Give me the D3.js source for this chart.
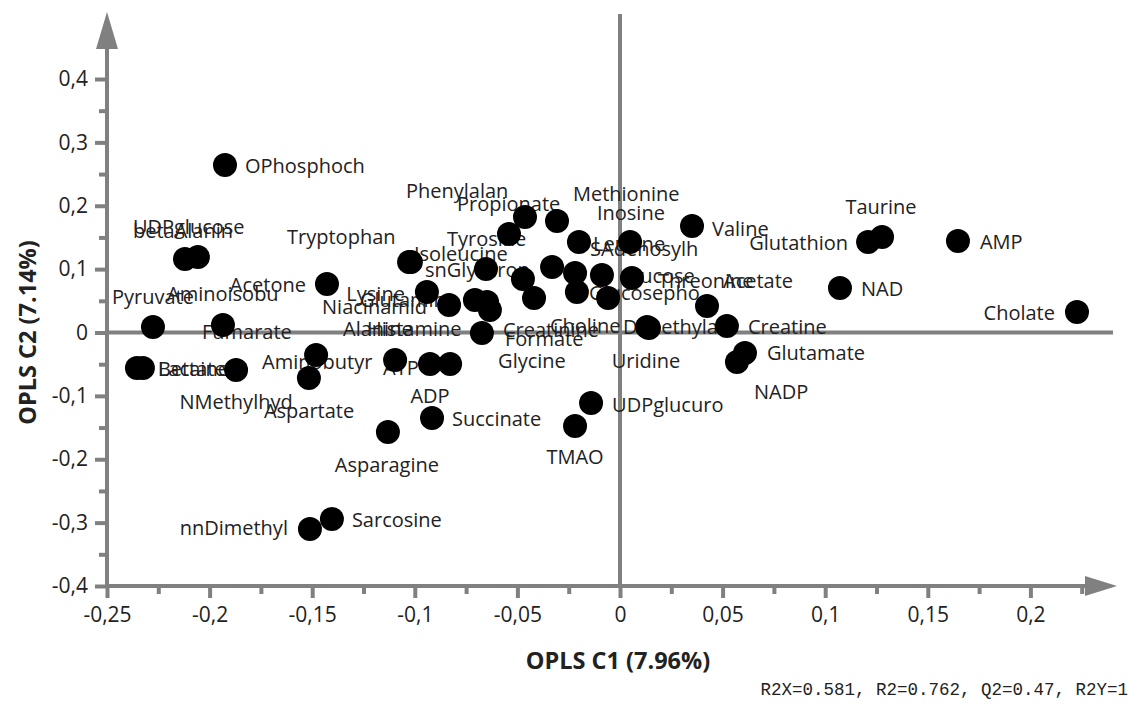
<!DOCTYPE html>
<html>
<head>
<meta charset="utf-8">
<script src="https://cdn.jsdelivr.net/npm/d3@7"></script>
<style>
  html, body { margin: 0; padding: 0; background: #fff; }
  svg { display: block; }
  text { font-family: "Open Sans", "Noto Sans", sans-serif; }
</style>
</head>
<body>
<svg id="chart" width="1132" height="706"></svg>
<script>
// ---------------- data ----------------
const names = [
  "OPhosphoch","UDPglucose","betaAlanin","Acetone","Tryptophan","Isoleucine","Phenylalan","Propionate","Tyrosine","Methionine",
  "Leucine","Valine","Glutathion","Taurine","AMP","snGlycerop","SAdenosylh","Formate","Threonine","Inosine",
  "Fucose","Aminoisobu","Choline","Glucosepho","Acetate","Dimethyla","Uridine","Creatine","Glutamate","NADP",
  "NAD","Cholate","Lysine","Niacinamid","Glutamine","Alanine","Histamine","Creatinine","Glycine","Pyruvate",
  "Fumarate","Betaine","Lactate","NMethylhyd","Aminobutyr","Aspartate","ATP","ADP","Succinate","Asparagine",
  "UDPglucuro","TMAO","nnDimethyl","Sarcosine"
];
const c1 = [
  -0.1925,-0.2057,-0.2120,-0.1428,-0.1028,-0.1019,-0.0463,-0.0307,-0.0541,-0.0200,
   0.0049, 0.0351, 0.1209, 0.1277, 0.1647,-0.0653,-0.0331,-0.0473,-0.0219,-0.0088,
   0.0058,-0.0419,-0.0210,-0.0058, 0.0424, 0.0132, 0.0141, 0.0521, 0.0609, 0.0570,
   0.1072, 0.2227,-0.0941,-0.0833,-0.0707,-0.0648,-0.0634,-0.0673,-0.0828,-0.2276,
  -0.1935,-0.2354,-0.2325,-0.1871,-0.1481,-0.1516,-0.1096,-0.0926,-0.0916,-0.1131,
  -0.0141,-0.0219,-0.1511,-0.1404
];
const c2 = [
   0.2642, 0.1191, 0.1159, 0.0765, 0.1112, 0.1112, 0.1822, 0.1759, 0.1554, 0.1427,
   0.1427, 0.1680, 0.1427, 0.1506, 0.1443, 0.1002, 0.1033, 0.0844, 0.0938, 0.0907,
   0.0860, 0.0544, 0.0639, 0.0544, 0.0418, 0.0087, 0.0071, 0.0103,-0.0323,-0.0465,
   0.0702, 0.0323, 0.0639, 0.0434, 0.0513, 0.0481, 0.0355,-0.0008,-0.0497, 0.0087,
   0.0118,-0.0560,-0.0560,-0.0591,-0.0355,-0.0718,-0.0434,-0.0497,-0.1349,-0.1569,
  -0.1112,-0.1475,-0.3099,-0.2942
];
const xTicks = [-0.25,-0.2,-0.15,-0.1,-0.05,0,0.05,0.1,0.15,0.2];
const xMinorTicks = [-0.225,-0.175,-0.125,-0.075,-0.025,0.025,0.075,0.125,0.175,0.225];
const yTicks = [-0.4,-0.3,-0.2,-0.1,0,0.1,0.2,0.3,0.4];
const yMinorTicks = [-0.35,-0.25,-0.15,-0.05,0.05,0.15,0.25,0.35];
const xTitle = "OPLS C1 (7.96%)";
const yTitle = "OPLS C2 (7.14%)";
const statsText = "R2X=0.581, R2=0.762, Q2=0.47, R2Y=1";

// label placement (pixel offsets from the point, anchor)
const labelLayout = [
  [20,0,"start"],[-65,-31,"start"],[-52,-29,"start"],[-21,0,"end"],[-122,-26,"start"],[3,-9,"start"],[-119,-27,"start"],[-100,-18,"start"],[-62,4,"start"],[-6,-49,"start"],
  [-37,1,"start"],[20,2,"start"],[-20,0,"end"],[-1,-31,"middle"],[22,0,"start"],[-61,1,"start"],[38,-19,"start"],[-18,59,"start"],[83,7,"start"],[-5,-63,"start"],
  [-2,-2,"start"],[-367,-5,"start"],[-27,33,"start"],[-19,-6,"start"],[16,-26,"start"],[-24,0,"start"],[-3,32,"middle"],[21,1,"start"],[22,0,"start"],[17,30,"start"],
  [21,0,"start"],[-22,0,"end"],[-22,1,"end"],[-22,2,"end"],[-115,0,"start"],[-144,26,"start"],[-123,18,"start"],[21,-4,"start"],[48,-3,"start"],[-41,-30,"start"],
  [-21,6,"start"],[21,1,"start"],[15,1,"start"],[0,32,"middle"],[-54,7,"start"],[-45,32,"start"],[-12,7,"start"],[0,32,"middle"],[20,1,"start"],[-1,33,"middle"],
  [21,2,"start"],[0,31,"middle"],[-22,-1,"end"],[20,1,"start"]
];

// ---------------- drawing ----------------
const svg = d3.select("#chart");
const W = 1132, H = 706;
svg.append("rect").attr("width", W).attr("height", H).attr("fill", "#fff");

const x = d3.scaleLinear().domain([-0.25, 0.2]).range([107, 107 + 0.45 * 2052]);
const y = d3.scaleLinear().domain([-0.4, 0.4]).range([586, 79]);

const AX = "#808080";
const TXT = "#222";
const loc = d3.formatLocale({decimal: ",", thousands: ".", grouping: [3], currency: ["", ""], minus: "-"});
const fmt = loc.format("~g");

const xEnd = 1117, yTop = 12;

// zero lines
svg.append("line").attr("x1", x(-0.25)).attr("x2", xEnd - 4).attr("y1", y(0)).attr("y2", y(0))
  .attr("stroke", AX).attr("stroke-width", 4);
svg.append("line").attr("x1", x(0)).attr("x2", x(0)).attr("y1", y(-0.4)).attr("y2", yTop + 2)
  .attr("stroke", AX).attr("stroke-width", 4);

// x axis (major + minor)
const gx = svg.append("g").attr("transform", `translate(0,${y(-0.4)})`);
gx.call(d3.axisBottom(x).tickValues(xTicks).tickSize(12).tickPadding(9).tickFormat(fmt));
const gxm = svg.append("g").attr("transform", `translate(0,${y(-0.4)})`);
gxm.call(d3.axisBottom(x).tickValues(xMinorTicks).tickSize(8).tickFormat(""));

// y axis (major + minor)
const gy = svg.append("g").attr("transform", `translate(${x(-0.25)},0)`);
gy.call(d3.axisLeft(y).tickValues(yTicks).tickSize(12).tickPadding(7).tickFormat(fmt));
const gym = svg.append("g").attr("transform", `translate(${x(-0.25)},0)`);
gym.call(d3.axisLeft(y).tickValues(yMinorTicks).tickSize(8).tickFormat(""));

[gx, gxm, gy, gym].forEach(g => {
  g.select(".domain").remove();
  g.selectAll(".tick line").attr("stroke", AX).attr("stroke-width", 4);
  g.selectAll(".tick text").attr("fill", TXT).style("font-size", "21px")
    .style("font-family", "'Open Sans', 'Noto Sans', sans-serif");
});

// axis lines with arrows
svg.append("line").attr("x1", x(-0.25) - 2).attr("x2", xEnd - 28).attr("y1", y(-0.4)).attr("y2", y(-0.4))
  .attr("stroke", AX).attr("stroke-width", 4);
svg.append("path").attr("d", `M${xEnd},${y(-0.4)} L${xEnd - 32},${y(-0.4) - 10} L${xEnd - 32},${y(-0.4) + 10} Z`).attr("fill", AX);
svg.append("line").attr("x1", x(-0.25)).attr("x2", x(-0.25)).attr("y1", y(-0.4) + 2).attr("y2", yTop + 30)
  .attr("stroke", AX).attr("stroke-width", 4);
svg.append("path").attr("d", `M${x(-0.25)},${yTop} L${x(-0.25) - 11},${yTop + 37} L${x(-0.25) + 11},${yTop + 37} Z`).attr("fill", AX);

// titles
svg.append("text").attr("x", 618).attr("y", 660).attr("text-anchor", "middle").attr("dominant-baseline", "central")
  .attr("fill", TXT).style("font-size", "23.5px").style("font-weight", "bold").text(xTitle);
svg.append("text").attr("transform", `translate(27,${y(0)}) rotate(-90)`).attr("text-anchor", "middle")
  .attr("dominant-baseline", "central").attr("fill", TXT).style("font-size", "23.5px").style("font-weight", "bold").text(yTitle);
svg.append("text").attr("x", 1128).attr("y", 690).attr("text-anchor", "end").attr("dominant-baseline", "central")
  .attr("fill", TXT).style("font-family", "'Liberation Mono', 'DejaVu Sans Mono', monospace").style("font-size", "17.5px").text(statsText);

// points data
const pts = names.map((n, i) => ({name: n, c1: c1[i], c2: c2[i], lay: labelLayout[i]}));

// labels (drawn below the dots, as in the reference)
svg.append("g").selectAll("text").data(pts).join("text")
  .attr("x", d => x(d.c1) + d.lay[0])
  .attr("y", d => y(d.c2) + d.lay[1])
  .attr("text-anchor", d => d.lay[2])
  .attr("dominant-baseline", "central")
  .attr("fill", TXT)
  .style("font-size", "20px")
  .text(d => d.name);

// dots
svg.append("g").selectAll("circle").data(pts).join("circle")
  .attr("cx", d => x(d.c1))
  .attr("cy", d => y(d.c2))
  .attr("r", 12)
  .attr("fill", "#000");
</script>
</body>
</html>
